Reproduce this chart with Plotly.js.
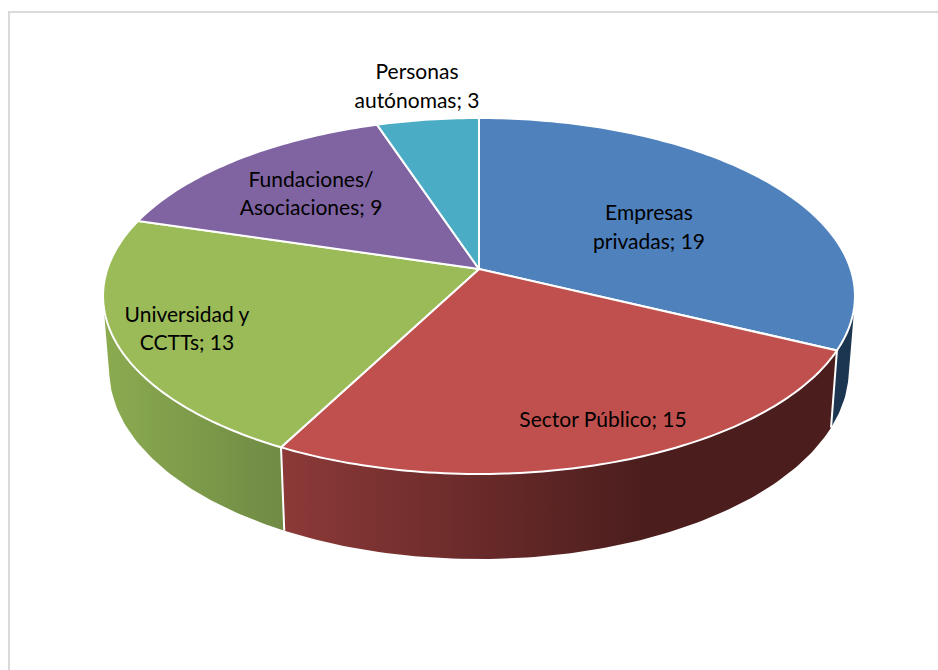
<!DOCTYPE html>
<html>
<head>
<meta charset="utf-8">
<script src="https://cdn.plot.ly/plotly-3.0.1.min.js"></script>
<style>html,body{margin:0;padding:0;background:#fff;overflow:hidden}#chart{width:938px;height:670px}</style>
</head>
<body>
<div id="chart"></div>
<script>
// Data
const firstLines = ["Empresas", "Sector Público", "Universidad y", "Fundaciones/", "Personas"];
const secondLines = ["privadas", "", "CCTTs", "Asociaciones", "autónomas"];
const values = [19, 15, 13, 9, 3];
const topColors = ["#4f81bd", "#c0504d", "#9bbb59", "#8064a2", "#4bacc6"];
const sideStops = [
  [[0, "#1c3550"], [1, "#1c3550"]],
  [[0, "#8c3a38"], [0.66, "#4b1d1d"], [1, "#4b1d1d"]],
  [[0, "#8bab50"], [1, "#708a44"]],
  null, null
];
const labelX = [649, 603, 187, 311, 417];
const labelY = [[215, 244], [422, 422], [317, 345], [182, 210], [74, 103]];

// Perspective camera for the tilted disc (axes are page-sized)
const persp = 0.1517;
const topDisc = {cx: 479, cy: 269, ax: 371.6, ay: 173.9};
const baseDisc = {cx: 479, cy: 341, ax: 365.5, ay: 185};
const silhouette = [100.6, 259.4];
const rad = Math.PI / 180;

function project(d, deg) {
  const X = Math.sin(deg * rad), Y = Math.cos(deg * rad), w = 1 + persp * Y;
  return [d.cx + d.ax * X / w, d.cy - d.ay * Y / w];
}
function arc(d, a, b) {
  const n = Math.max(2, Math.ceil(Math.abs(b - a))), pts = [];
  for (let i = 0; i <= n; i++) pts.push(project(d, a + (b - a) * i / n));
  return pts;
}

const total = values.reduce((s, v) => s + v, 0);
const slices = [];
let run = 0;
values.forEach(v => { slices.push([run / total * 360, (run + v) / total * 360]); run += v; });

const traces = [];
// Outer wall of the disc, only where it faces the viewer
slices.forEach((s, i) => {
  if (!sideStops[i]) return;
  const a = Math.max(s[0], silhouette[0]), b = Math.min(s[1], silhouette[1]);
  const pts = arc(topDisc, a, b).concat(arc(baseDisc, b, a));
  pts.push(pts[0]);
  traces.push({
    type: "scatter", mode: "lines", x: pts.map(p => p[0]), y: pts.map(p => p[1]),
    fill: "toself", line: {width: 0, color: "rgba(0,0,0,0)"},
    fillgradient: {type: "horizontal", colorscale: sideStops[i]},
    hoverinfo: "skip", showlegend: false
  });
});
// White seams between wall segments
[slices[0][1], slices[1][1]].forEach(a => {
  const p = project(topDisc, a), q = project(baseDisc, a);
  traces.push({
    type: "scatter", mode: "lines", x: [p[0], q[0]], y: [p[1], q[1]],
    line: {color: "#ffffff", width: 2}, hoverinfo: "skip", showlegend: false
  });
});
// Top face
slices.forEach((s, i) => {
  const pts = [[topDisc.cx, topDisc.cy]].concat(arc(topDisc, s[0], s[1]));
  pts.push(pts[0]);
  traces.push({
    type: "scatter", mode: "lines", x: pts.map(p => p[0]), y: pts.map(p => p[1]),
    fill: "toself", fillcolor: topColors[i],
    line: {color: "#ffffff", width: 2, simplify: false},
    hoverinfo: "skip", showlegend: false
  });
});
// Data labels
const tx = [], ty = [], tt = [];
values.forEach((v, i) => {
  if (secondLines[i]) {
    tx.push(labelX[i], labelX[i]); ty.push(labelY[i][0], labelY[i][1]);
    tt.push(firstLines[i], secondLines[i] + "; " + v);
  } else {
    tx.push(labelX[i]); ty.push(labelY[i][0]);
    tt.push(firstLines[i] + "; " + v);
  }
});
traces.push({
  type: "scatter", mode: "text", x: tx, y: ty, text: tt, textposition: "middle center",
  textfont: {family: "Lato, 'Open Sans', sans-serif", size: 21, color: "#000000"},
  hoverinfo: "skip", showlegend: false
});

const hidden = {visible: false, fixedrange: true};
Plotly.newPlot("chart", traces, {
  width: 938, height: 670,
  margin: {l: 0, r: 0, t: 0, b: 0},
  paper_bgcolor: "#ffffff", plot_bgcolor: "#ffffff",
  xaxis: Object.assign({range: [0, 938]}, hidden),
  yaxis: Object.assign({range: [670, 0]}, hidden),
  showlegend: false,
  shapes: [{type: "rect", xref: "x", yref: "y", x0: 9, y0: 12, x1: 1000, y1: 720,
            line: {color: "#d9d9d9", width: 2}, fillcolor: "rgba(0,0,0,0)", layer: "below"}]
}, {displayModeBar: false, staticPlot: true});
</script>
</body>
</html>
